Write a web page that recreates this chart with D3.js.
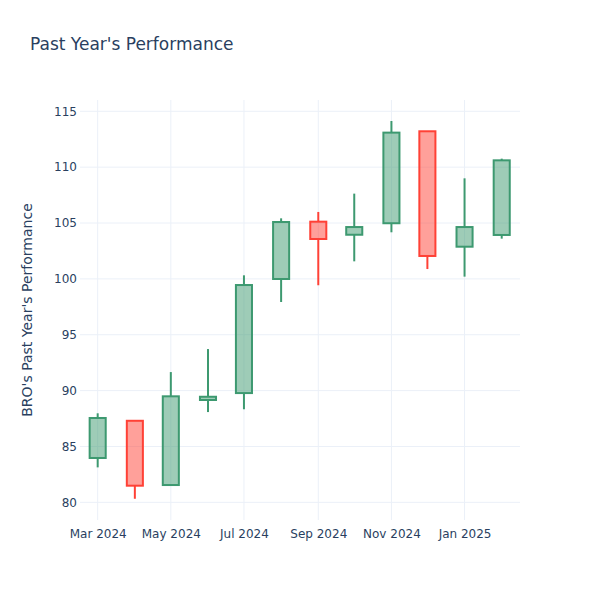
<!DOCTYPE html>
<html>
<head>
<meta charset="utf-8">
<script src="https://cdn.jsdelivr.net/npm/d3@7"></script>
<style>
  html, body { margin: 0; padding: 0; background: #fff; }
  svg { display: block; }
  text { font-family: "DejaVu Sans", "Open Sans", Verdana, Arial, sans-serif; fill: #2a3f5f; }
</style>
</head>
<body>
<div id="chart"></div>
<script>
// ---- data ----
const dates  = ["2024-03-01","2024-04-01","2024-05-01","2024-06-01","2024-07-01","2024-08-01",
                "2024-09-01","2024-10-01","2024-11-01","2024-12-01","2025-01-01","2025-02-01"];
const open   = [83.97, 87.30, 81.55, 89.16, 89.78, 99.99, 105.12, 103.95, 104.98, 113.21, 102.88, 103.93];
const high   = [87.97, 87.35, 91.66, 93.72, 100.32, 105.42, 105.99, 107.63, 114.13, 113.21, 109.00, 110.76];
const low    = [83.13, 80.32, 81.50, 88.08, 88.33, 97.93, 99.43, 101.57, 104.17, 100.88, 100.20, 103.60];
const close  = [87.55, 81.49, 89.49, 89.45, 99.45, 105.09, 103.57, 104.64, 113.09, 102.05, 104.64, 110.61];
const yTicks = [80, 85, 90, 95, 100, 105, 110, 115];
const titleText = "Past Year's Performance";
const yTitle = "BRO's Past Year's Performance";

// ---- layout ----
const W = 600, H = 600;
const margin = {l: 80, r: 80, t: 100, b: 80};
const iw = W - margin.l - margin.r, ih = H - margin.t - margin.b;
const incColor = "#3D9970", decColor = "#FF4136";
const gridColor = "#EBF0F8";

const parse = d3.utcParse("%Y-%m-%d");
const data = dates.map((d, i) => ({date: parse(d), open: open[i], high: high[i], low: low[i], close: close[i]}));

const x = d3.scaleUtc()
  .domain([new Date(Date.UTC(2024, 1, 15, 6)), new Date(Date.UTC(2025, 1, 16, 6))])
  .range([0, iw]);
const y = d3.scaleLinear().domain([78.42, 116.01]).range([ih, 0]);

const svg = d3.select("#chart").append("svg").attr("width", W).attr("height", H);

svg.append("text").attr("x", 30).attr("y", 50)
  .attr("font-size", 17).text(titleText);

const g = svg.append("g").attr("transform", `translate(${margin.l},${margin.t})`);

// grid
const xTicks = x.ticks(d3.utcMonth.every(2));
g.append("g").selectAll("line").data(yTicks).join("line")
  .attr("x1", 0).attr("x2", iw).attr("y1", d => y(d)).attr("y2", d => y(d))
  .attr("stroke", gridColor).attr("stroke-width", 1);
g.append("g").selectAll("line").data(xTicks).join("line")
  .attr("y1", 0).attr("y2", ih).attr("x1", d => x(d)).attr("x2", d => x(d))
  .attr("stroke", gridColor).attr("stroke-width", 1);

// axes
const xAxis = d3.axisBottom(x).tickValues(xTicks).tickFormat(d3.utcFormat("%b %Y")).tickSize(0).tickPadding(9);
const xg = g.append("g").attr("transform", `translate(0,${ih})`).call(xAxis);
xg.select(".domain").remove();
xg.selectAll("text").attr("font-size", 12).attr("fill", "#2a3f5f").style("font-family", "DejaVu Sans, sans-serif");

const yAxis = d3.axisLeft(y).tickValues(yTicks).tickSize(0).tickPadding(3);
const yg = g.append("g").call(yAxis);
yg.select(".domain").remove();
yg.selectAll("text").attr("font-size", 12).attr("fill", "#2a3f5f").style("font-family", "DejaVu Sans, sans-serif");

svg.append("text")
  .attr("transform", `translate(32,${margin.t + ih / 2}) rotate(-90)`)
  .attr("text-anchor", "middle").attr("font-size", 14).text(yTitle);

// candles
const halfDays = 6.7 * 24 * 3600 * 1000;
const candles = g.append("g").selectAll("g").data(data).join("g");
candles.each(function(d) {
  const c = d3.select(this);
  const inc = d.close >= d.open;
  const col = inc ? incColor : decColor;
  const cx = x(d.date);
  const x0 = x(new Date(+d.date - halfDays)), x1 = x(new Date(+d.date + halfDays));
  const top = y(Math.max(d.open, d.close)), bot = y(Math.min(d.open, d.close));
  c.append("line").attr("x1", cx).attr("x2", cx).attr("y1", y(d.high)).attr("y2", top)
    .attr("stroke", col).attr("stroke-width", 2);
  c.append("line").attr("x1", cx).attr("x2", cx).attr("y1", bot).attr("y2", y(d.low))
    .attr("stroke", col).attr("stroke-width", 2);
  c.append("rect").attr("x", x0).attr("width", x1 - x0)
    .attr("y", top).attr("height", Math.max(bot - top, 0.5))
    .attr("fill", col).attr("fill-opacity", 0.5)
    .attr("stroke", col).attr("stroke-width", 2);
});
</script>
</body>
</html>
